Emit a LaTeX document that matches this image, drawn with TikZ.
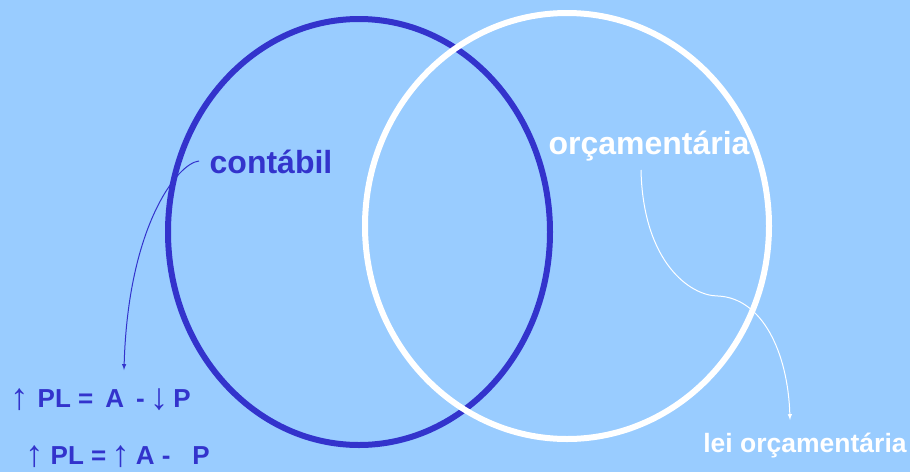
\documentclass[tikz,border=0pt]{standalone}
\usepackage{fontspec}
\setmainfont{Liberation Sans}
\usetikzlibrary{arrows}
\definecolor{fundo}{HTML}{99CCFF}
\definecolor{azul}{HTML}{3333CC}
\newcommand\sobe{\raisebox{-2pt}[\height][0pt]{\fontsize{37}{37}\selectfont\mdseries ↑}}
\newcommand\desce{\raisebox{-2pt}[\height][0pt]{\fontsize{37}{37}\selectfont\mdseries ↓}}
\tikzset{t/.style={inner sep=0, font=\bfseries\fontsize{32}{38}\selectfont},
  eq/.style={inner sep=0, anchor=base west, text=azul, font=\bfseries\fontsize{26}{30}\selectfont}}

\begin{document}
\begin{tikzpicture}[x=1pt, y=-1pt]
    \fill[fundo] (0,0) rectangle (910,472);
    \useasboundingbox (0,0) rectangle (910,472);

    \draw[azul, line width=6pt] (359,232) ellipse [x radius=191, y radius=213];
    \draw[white, line width=6pt] (567,226) ellipse [x radius=202, y radius=213];

    \node[t, text=azul](C) at (271,162) {contábil};
    \node[t, text=white](O) at (649,146) {orçamentária};
    \node[t, text=white, font=\bfseries\fontsize{26.5}{30}\selectfont](L) at (805,446) {lei orçamentária};
    \node[eq](E1) at (10,407) {\sobe\hspace{9pt}PL =\hspace{12pt}A\hspace{12pt}-\hspace{5pt}\desce\hspace{5pt}P};
    \node[eq](E2) at (25,464) {\sobe\hspace{7pt}PL =\hspace{5pt}\sobe\hspace{6pt}A -\hspace{22pt}P};

    \coordinate (c1) at (199,161);
    \coordinate (c2) at (124,370);
    \coordinate (o1) at (641,170);
    \coordinate (o2) at (790,420);
    \draw[azul, line width=1pt, -latex] (c1) .. controls (178,163) and (128,225) .. (c2);
    \draw[white, line width=1pt, -latex] (o1) .. controls (643,262) and (690,296) .. (718,296)
      .. controls (762,298) and (788,352) .. (o2);
\end{tikzpicture}
\end{document}
